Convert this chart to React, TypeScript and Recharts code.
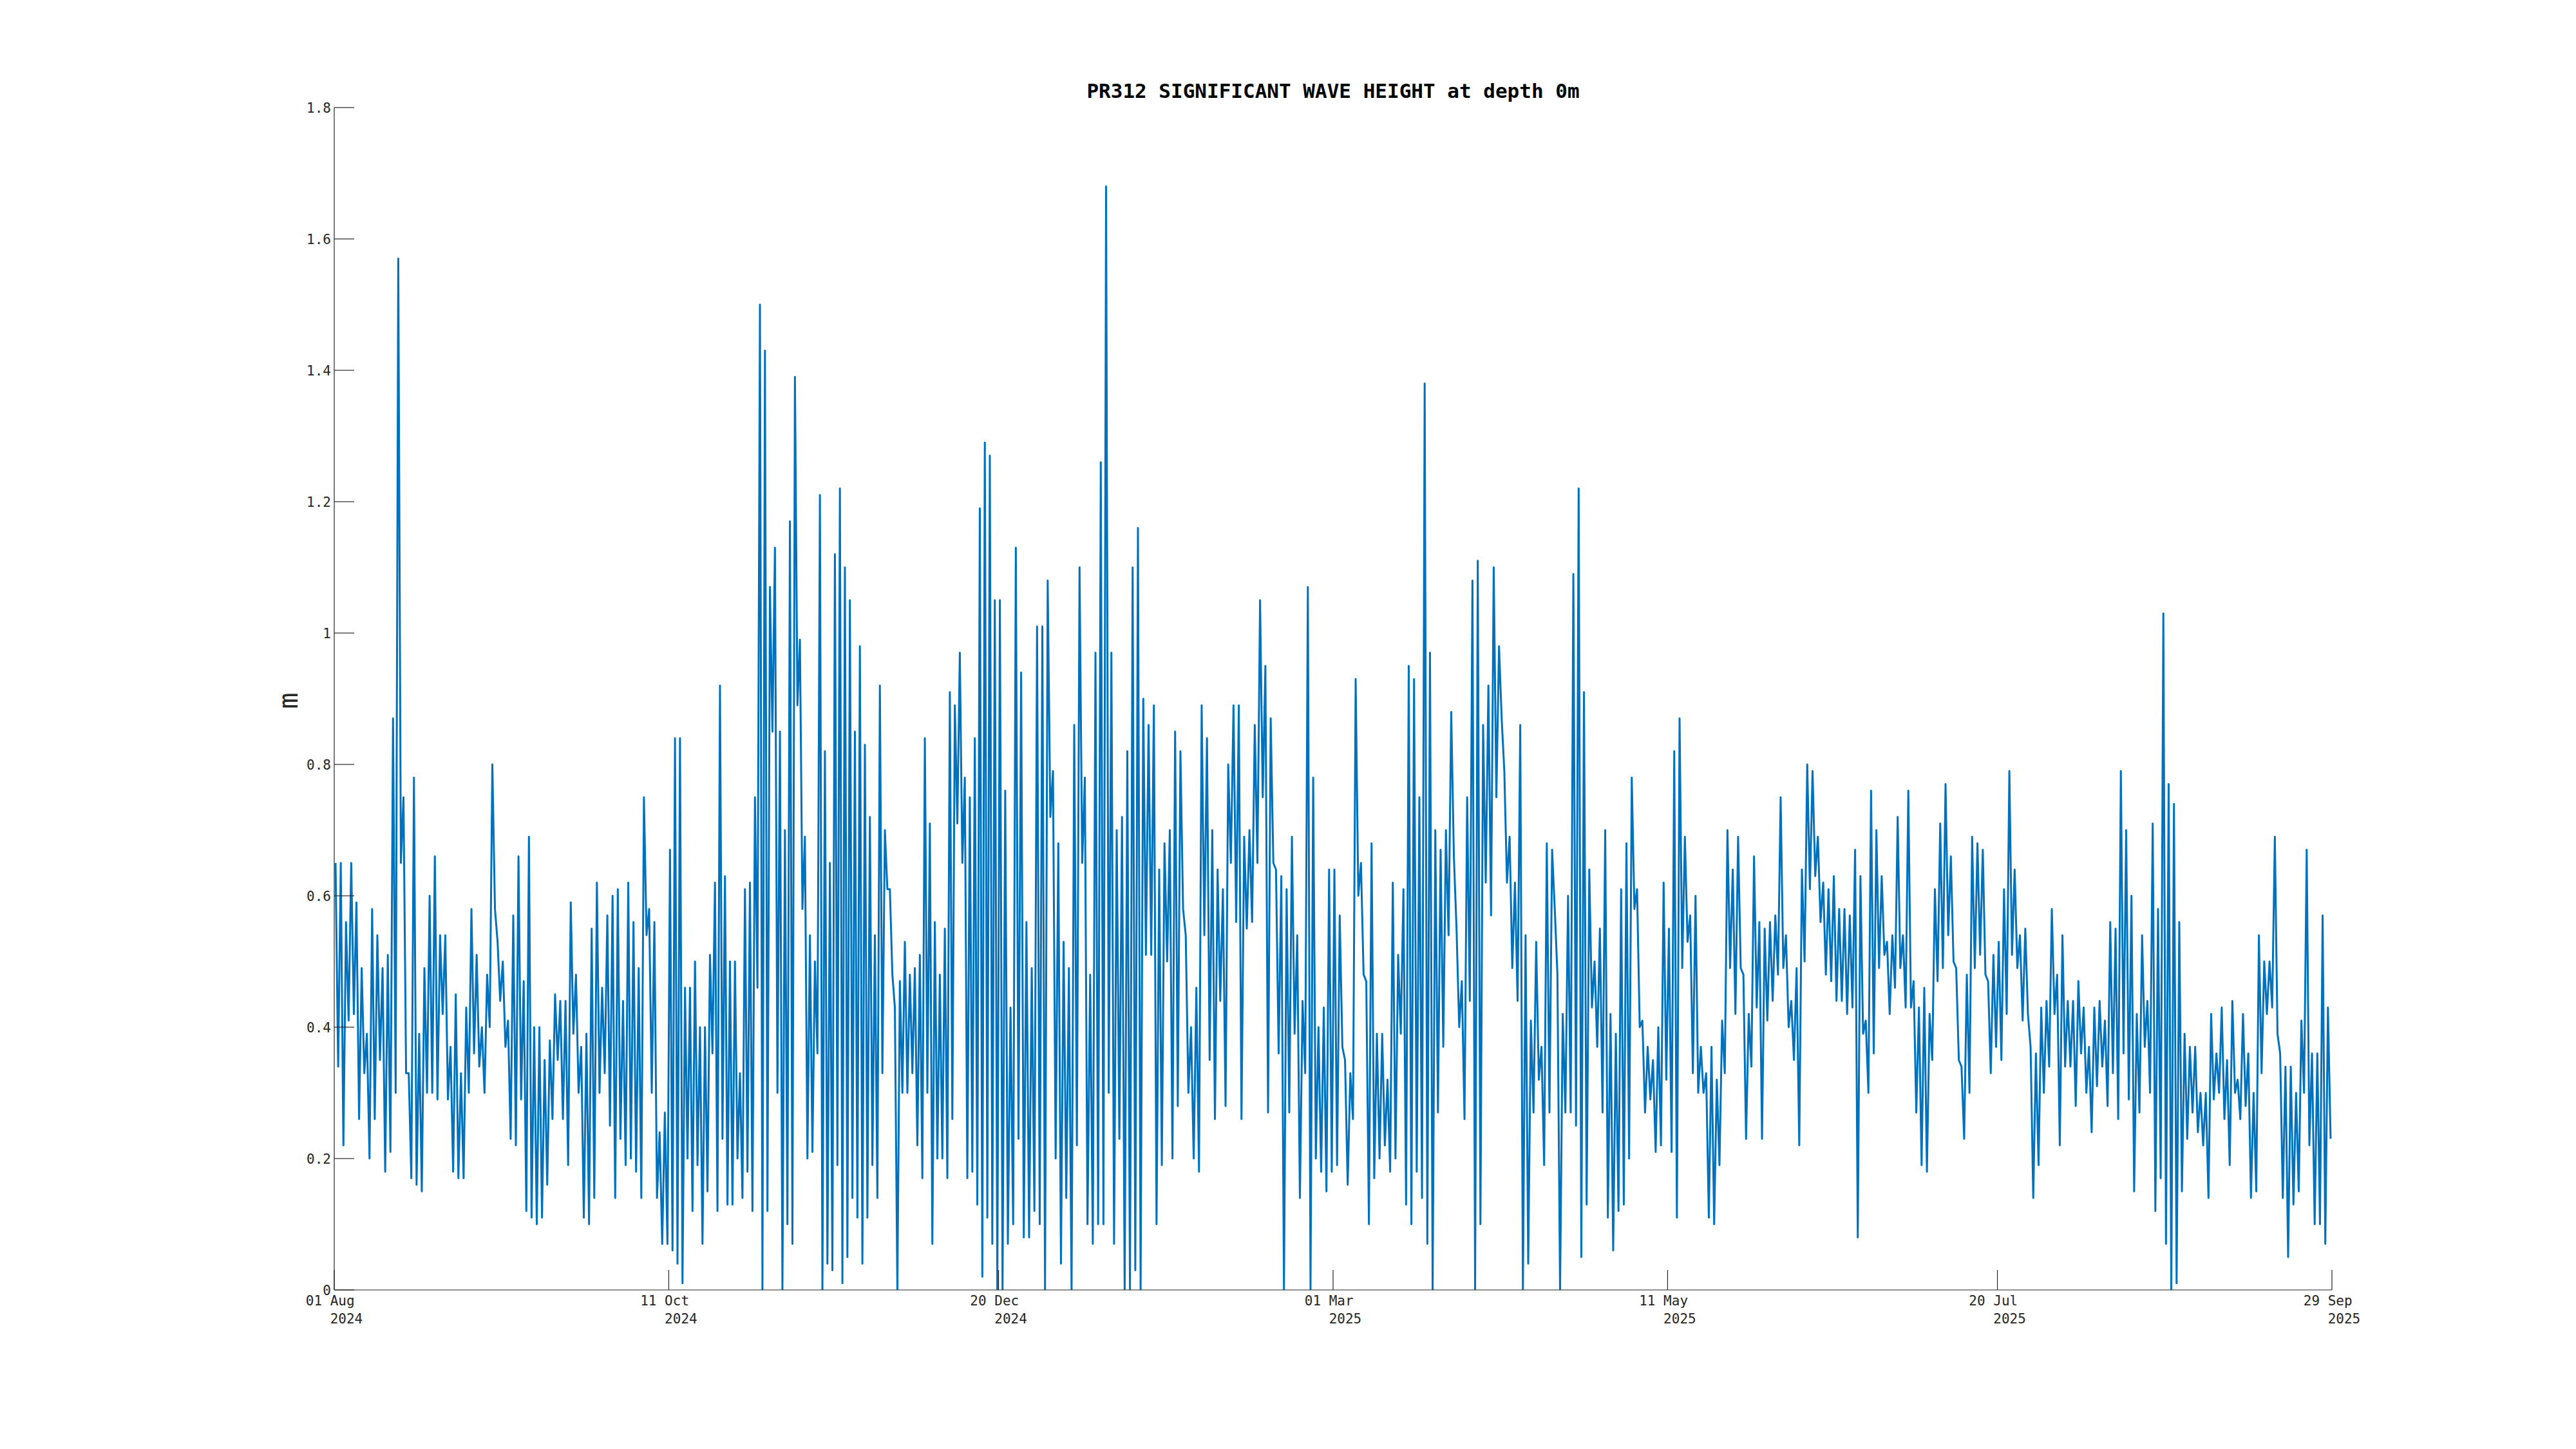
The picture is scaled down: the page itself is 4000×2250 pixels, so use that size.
import React from 'react';
import { LineChart, Line, XAxis, YAxis } from 'recharts';

// Significant wave height (m): pairs of (local high, local low) per sample interval, per tick segment
const segAugOct = [0.65,0.34, 0.65,0.22, 0.56,0.41, 0.65,0.42, 0.59,0.26, 0.49,0.33, 0.39,0.2, 0.58,0.26, 0.54,0.35, 0.49,0.18, 0.51,0.21, 0.87,0.30, 1.57,0.65, 0.75,0.33, 0.33,0.17, 0.78,0.16, 0.39,0.15, 0.49,0.3, 0.6,0.3, 0.66,0.29, 0.54,0.42, 0.54,0.29, 0.37,0.18, 0.45,0.17, 0.33,0.17, 0.43,0.3, 0.58,0.36, 0.51,0.34, 0.4,0.3, 0.48,0.4, 0.8,0.58, 0.53,0.44, 0.5,0.37, 0.41,0.23, 0.57,0.22, 0.66,0.29, 0.47,0.12, 0.69,0.11, 0.4,0.1, 0.4,0.11, 0.35,0.16, 0.38,0.26, 0.45,0.35, 0.44,0.26, 0.44,0.19, 0.59,0.39, 0.48,0.3, 0.37,0.11, 0.39,0.1, 0.55,0.14, 0.62,0.3, 0.46,0.33, 0.57,0.25, 0.6,0.14, 0.61,0.23, 0.44,0.19, 0.62,0.2, 0.56,0.18, 0.49,0.14, 0.75,0.54, 0.58,0.3, 0.56,0.14, 0.24,0.07, 0.27,0.07];
const segOctDec = [0.67,0.06, 0.84,0.04, 0.84,0.01, 0.46,0.2, 0.46,0.12, 0.5,0.19, 0.4,0.07, 0.4,0.15, 0.51,0.36, 0.62,0.12, 0.92,0.23, 0.63,0.13, 0.5,0.13, 0.5,0.2, 0.33,0.14, 0.61,0.18, 0.62,0.12, 0.75,0.46, 1.5,0.0, 1.43,0.12, 1.07,0.85, 1.13,0.3, 0.85,0.0, 0.70,0.1, 1.17,0.07, 1.39,0.89, 0.99,0.58, 0.69,0.2, 0.54,0.21, 0.5,0.36, 1.21,0.0, 0.82,0.04, 0.65,0.03, 1.12,0.19, 1.22,0.01, 1.1,0.05, 1.05,0.14, 0.85,0.11, 0.98,0.04, 0.83,0.11, 0.72,0.19, 0.54,0.14, 0.92,0.33, 0.7,0.61, 0.61,0.48, 0.43,0.0, 0.47,0.3, 0.53,0.3, 0.48,0.33, 0.49,0.22, 0.51,0.17, 0.84,0.3, 0.71,0.07, 0.56,0.2, 0.48,0.2, 0.55,0.17, 0.91,0.26, 0.89,0.71, 0.97,0.65, 0.78,0.17, 0.75,0.18, 0.84,0.13, 1.19,0.02, 1.29,0.11, 1.27,0.07, 1.05,0.0];
const segDecMar = [1.05,0.0, 0.76,0.07, 0.43,0.1, 1.13,0.23, 0.94,0.08, 0.56,0.08, 0.49,0.12, 1.01,0.1, 1.01,0.0, 1.08,0.72, 0.79,0.2, 0.68,0.04, 0.53,0.14, 0.49,0.0, 0.86,0.22, 1.1,0.65, 0.78,0.1, 0.48,0.07, 0.97,0.1, 1.26,0.1, 1.68,0.3, 0.97,0.07, 0.7,0.23, 0.72,0.0, 0.82,0.0, 1.1,0.03, 1.16,0.0, 0.9,0.51, 0.86,0.51, 0.89,0.1, 0.64,0.19, 0.68,0.5, 0.7,0.2, 0.85,0.28, 0.82,0.58, 0.54,0.3, 0.4,0.2, 0.46,0.18, 0.89,0.54, 0.84,0.35, 0.7,0.26, 0.64,0.44, 0.61,0.28, 0.8,0.65, 0.89,0.56, 0.89,0.26, 0.69,0.55, 0.7,0.56, 0.86,0.65, 1.05,0.75, 0.95,0.27, 0.87,0.65, 0.64,0.36, 0.63,0.0, 0.61,0.27, 0.69,0.39, 0.54,0.14, 0.44,0.33, 1.07,0.0, 0.78,0.2, 0.4,0.18, 0.43,0.15, 0.64,0.18];
const segMarMay = [0.64,0.19, 0.57,0.37, 0.35,0.16, 0.33,0.26, 0.93,0.6, 0.65,0.48, 0.47,0.1, 0.68,0.17, 0.39,0.2, 0.39,0.22, 0.32,0.18, 0.62,0.2, 0.51,0.39, 0.61,0.13, 0.95,0.1, 0.93,0.18, 0.75,0.14, 1.38,0.07, 0.97,0.0, 0.7,0.27, 0.67,0.37, 0.7,0.54, 0.88,0.66, 0.55,0.4, 0.47,0.26, 0.75,0.44, 1.08,0.0, 1.11,0.1, 0.86,0.62, 0.92,0.57, 1.1,0.75, 0.98,0.87, 0.79,0.62, 0.69,0.49, 0.62,0.44, 0.86,0.0, 0.54,0.04, 0.41,0.27, 0.53,0.32, 0.37,0.19, 0.68,0.27, 0.67,0.58, 0.48,0.0, 0.42,0.27, 0.6,0.27, 1.09,0.25, 1.22,0.05, 0.91,0.13, 0.64,0.43, 0.5,0.37, 0.55,0.27, 0.7,0.11, 0.42,0.06, 0.39,0.12, 0.61,0.13, 0.68,0.2, 0.78,0.58, 0.61,0.4, 0.41,0.27, 0.37,0.29, 0.35,0.21, 0.4,0.22, 0.62,0.32];
const segMayJul = [0.55,0.21, 0.82,0.11, 0.87,0.49, 0.69,0.53, 0.57,0.33, 0.6,0.3, 0.37,0.3, 0.33,0.11, 0.37,0.1, 0.32,0.19, 0.41,0.33, 0.7,0.49, 0.64,0.42, 0.69,0.49, 0.48,0.23, 0.42,0.34, 0.66,0.43, 0.56,0.23, 0.55,0.41, 0.56,0.44, 0.57,0.48, 0.75,0.49, 0.54,0.4, 0.44,0.35, 0.49,0.22, 0.64,0.5, 0.8,0.61, 0.79,0.63, 0.69,0.56, 0.62,0.48, 0.61,0.47, 0.63,0.44, 0.58,0.44, 0.58,0.42, 0.57,0.43, 0.67,0.08, 0.63,0.39, 0.41,0.3, 0.76,0.36, 0.7,0.49, 0.63,0.51, 0.53,0.42, 0.54,0.46, 0.72,0.49, 0.54,0.43, 0.76,0.43, 0.47,0.27, 0.43,0.19, 0.46,0.18, 0.42,0.35, 0.61,0.47, 0.71,0.49, 0.77,0.54, 0.66,0.5, 0.49,0.35, 0.34,0.23, 0.48,0.3, 0.69,0.49, 0.68,0.51, 0.67,0.48, 0.47,0.33, 0.51,0.37];
const segJulSep = [0.53,0.35, 0.61,0.42, 0.79,0.51, 0.64,0.49, 0.54,0.41, 0.55,0.42, 0.37,0.14, 0.36,0.19, 0.43,0.3, 0.44,0.34, 0.58,0.42, 0.48,0.22, 0.54,0.34, 0.44,0.34, 0.44,0.28, 0.47,0.36, 0.43,0.3, 0.37,0.24, 0.43,0.31, 0.44,0.34, 0.41,0.28, 0.56,0.33, 0.55,0.26, 0.79,0.36, 0.7,0.29, 0.6,0.15, 0.42,0.27, 0.54,0.37, 0.44,0.3, 0.71,0.12, 0.58,0.17, 1.03,0.07, 0.77,0.0, 0.74,0.01, 0.56,0.15, 0.39,0.23, 0.37,0.27, 0.37,0.24, 0.3,0.22, 0.3,0.14, 0.42,0.29, 0.36,0.3, 0.43,0.26, 0.35,0.19, 0.44,0.3, 0.32,0.26, 0.42,0.28, 0.36,0.14, 0.3,0.15, 0.54,0.33, 0.5,0.42, 0.5,0.43, 0.69,0.39, 0.36,0.14, 0.34,0.05, 0.34,0.13, 0.3,0.15, 0.41,0.3, 0.67,0.22, 0.36,0.1, 0.36,0.1, 0.57,0.07, 0.43,0.23];

const segments = [segAugOct, segOctDec, segDecMar, segMarMay, segMayJul, segJulSep];

// Tick positions: days since 01 Aug 2024
const dayTicks = [0, 71, 141, 212, 283, 353, 424];
const dayLabels = [
  ['01 Aug', '2024'],
  ['11 Oct', '2024'],
  ['20 Dec', '2024'],
  ['01 Mar', '2025'],
  ['11 May', '2025'],
  ['20 Jul', '2025'],
  ['29 Sep', '2025'],
];
const yTicks = [0, 0.2, 0.4, 0.6, 0.8, 1, 1.2, 1.4, 1.6, 1.8];

const data: { t: number; v: number }[] = [];
segments.forEach((seg, s) => {
  const a = dayTicks[s];
  const b = dayTicks[s + 1];
  const n = seg.length;
  seg.forEach((v, j) => {
    data.push({ t: a + ((j + 0.5) * (b - a)) / n, v });
  });
});

const FONT = '"DejaVu Sans Mono", "Liberation Mono", monospace';
const AXIS = '#262626';
const BLUE = '#0072BD';
const FS = 21;
const ADV = FS * 0.602;

function XTick(props: any) {
  const { x, y, payload } = props;
  const i = dayTicks.indexOf(payload.value);
  const lab = dayLabels[i] || ['', ''];
  return (
    <g>
      <line x1={x} y1={y} x2={x} y2={y - 31} stroke={AXIS} strokeWidth={1.2} />
      <text x={x - 3.5 * ADV} y={y + 24} fontFamily={FONT} fontSize={FS} fill={AXIS} textAnchor="start">
        {lab[0]}
      </text>
      <text x={x - 0.5 * ADV} y={y + 52} fontFamily={FONT} fontSize={FS} fill={AXIS} textAnchor="start">
        {lab[1]}
      </text>
    </g>
  );
}

function YTick(props: any) {
  const { x, y, payload } = props;
  const label = String(Number(Number(payload.value).toFixed(1)));
  return (
    <g>
      <line x1={x} y1={y} x2={x + 31} y2={y} stroke={AXIS} strokeWidth={1.2} />
      <text x={x - 5} y={y + 8} fontFamily={FONT} fontSize={FS} fill={AXIS} textAnchor="end">
        {label}
      </text>
    </g>
  );
}

const W = 3984;
const H = 2234;

export default function App() {
  return (
    <div style={{ position: 'relative', width: W, height: H, background: '#fff' }}>
      <LineChart
        width={W}
        height={H}
        data={data}
        margin={{ top: 159, left: 411, right: 371, bottom: 139 }}
      >
        <XAxis
          dataKey="t"
          type="number"
          domain={[0, 424]}
          ticks={dayTicks}
          interval={0}
          allowDataOverflow
          tickLine={false}
          tickSize={0}
          tickMargin={0}
          height={100}
          axisLine={{ stroke: AXIS, strokeWidth: 1.2 }}
          tick={<XTick />}
        />
        <YAxis
          type="number"
          domain={[0, 1.8]}
          ticks={yTicks}
          interval={0}
          allowDataOverflow
          tickLine={false}
          tickSize={0}
          tickMargin={0}
          width={100}
          axisLine={{ stroke: AXIS, strokeWidth: 1.2 }}
          tick={<YTick />}
        />
        <Line
          type="linear"
          dataKey="v"
          stroke={BLUE}
          strokeWidth={3}
          strokeLinejoin="round"
          dot={false}
          activeDot={false}
          isAnimationActive={false}
        />
      </LineChart>
      <svg
        width={W}
        height={H}
        style={{ position: 'absolute', left: 0, top: 0, pointerEvents: 'none' }}
      >
        <text x={2062} y={144} textAnchor="middle" fontFamily={FONT} fontWeight="bold" fontSize={31} fill="#000">
          PR312 SIGNIFICANT WAVE HEIGHT at depth 0m
        </text>
        <text
          x={454}
          y={1080}
          textAnchor="middle"
          fontFamily={FONT}
          fontSize={42}
          fill={AXIS}
          transform="rotate(-90 454 1080)"
        >
          m
        </text>
      </svg>
    </div>
  );
}
